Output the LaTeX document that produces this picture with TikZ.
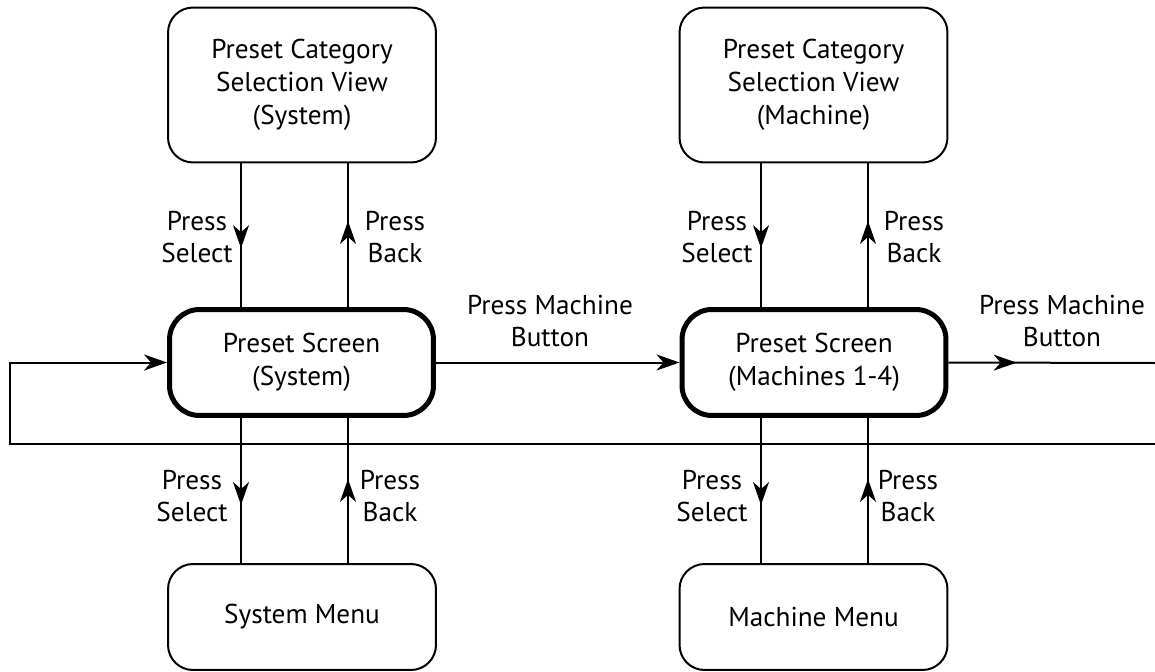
\documentclass[tikz,border=0pt]{standalone}
\usepackage{fontspec}
\setmainfont{PT Sans}
\usetikzlibrary{arrows.meta,decorations.markings}
\begin{document}
\begin{tikzpicture}[x=0.02cm,y=-0.02cm,
  font=\fontsize{15.5}{18.7}\selectfont,
  tip/.tip={Stealth[length=4.6mm,width=3.2mm,inset=1.4mm]},
  thinbox/.style={draw,rounded corners=0.5cm,line width=0.04cm,align=center,
    minimum width=5.36cm,minimum height=3.1cm,inner sep=0pt},
  menubox/.style={draw,rounded corners=0.5cm,line width=0.04cm,align=center,
    minimum width=5.36cm,minimum height=2.12cm,inner sep=0pt},
  thickbox/.style={draw,rounded corners=0.6cm,line width=0.1cm,align=center,
    minimum width=5.28cm,minimum height=2.12cm,inner sep=0pt},
  conn/.style={line width=0.04cm},
  midtip/.style={conn,postaction={decorate},decoration={markings,
    mark=at position #1 with {\arrow{tip}}}},
  lbl/.style={align=center,inner sep=0pt}]
\useasboundingbox (0,0) rectangle (1155,672);

\node[thinbox] (cs) at (302,85) {Preset Category\\Selection View\\(System)};
\node[thinbox] (cm) at (813.5,85) {Preset Category\\Selection View\\(Machine)};
\node[thickbox] (ps) at (301.5,362.5) {Preset Screen\\(System)};
\node[thickbox] (pm) at (814,362.5) {Preset Screen\\(Machines 1-4)};
\node[menubox] (sm) at (302,617) {System Menu};
\node[menubox] (mm) at (813.5,617) {Machine Menu};

\coordinate (xa) at (241,0);
\coordinate (xb) at (348,0);
\coordinate (xc) at (761,0);
\coordinate (xd) at (868,0);

% System side verticals
\draw[midtip=0.59] (cs.south -| xa) -- (ps.north -| xa);
\draw[midtip=0.60] (ps.north -| xb) -- (cs.south -| xb);
\draw[midtip=0.60] (ps.south -| xa) -- (sm.north -| xa);
\draw[midtip=0.58] (sm.north -| xb) -- (ps.south -| xb);
% Machine side verticals
\draw[midtip=0.59] (cm.south -| xc) -- (pm.north -| xc);
\draw[midtip=0.60] (pm.north -| xd) -- (cm.south -| xd);
\draw[midtip=0.60] (pm.south -| xc) -- (mm.north -| xc);
\draw[midtip=0.58] (mm.north -| xd) -- (pm.south -| xd);

% horizontal connectors
\draw[conn,-{tip}] (ps.east) -- (pm.west);
\coordinate (re) at (1155,363);
\draw[midtip=0.33] (pm.east) -- (re);
\coordinate (le) at (1155,444);
\coordinate (lc) at (10,444);
\draw[conn,-{tip}] (le) -- (lc) |- (ps.west);

% labels
\node[lbl] (l1) at (197,237) {Press\\Select};
\node[lbl] (l2) at (395,237) {Press\\Back};
\node[lbl] (l3) at (192,496) {Press\\Select};
\node[lbl] (l4) at (390,496) {Press\\Back};
\node[lbl] (l5) at (717,237) {Press\\Select};
\node[lbl] (l6) at (914,237) {Press\\Back};
\node[lbl] (l7) at (712,496) {Press\\Select};
\node[lbl] (l8) at (908,496) {Press\\Back};
\node[lbl] (l9) at (550,321) {Press Machine\\Button};
\node[lbl] (l10) at (1062,321) {Press Machine\\Button};
\end{tikzpicture}
\end{document}
